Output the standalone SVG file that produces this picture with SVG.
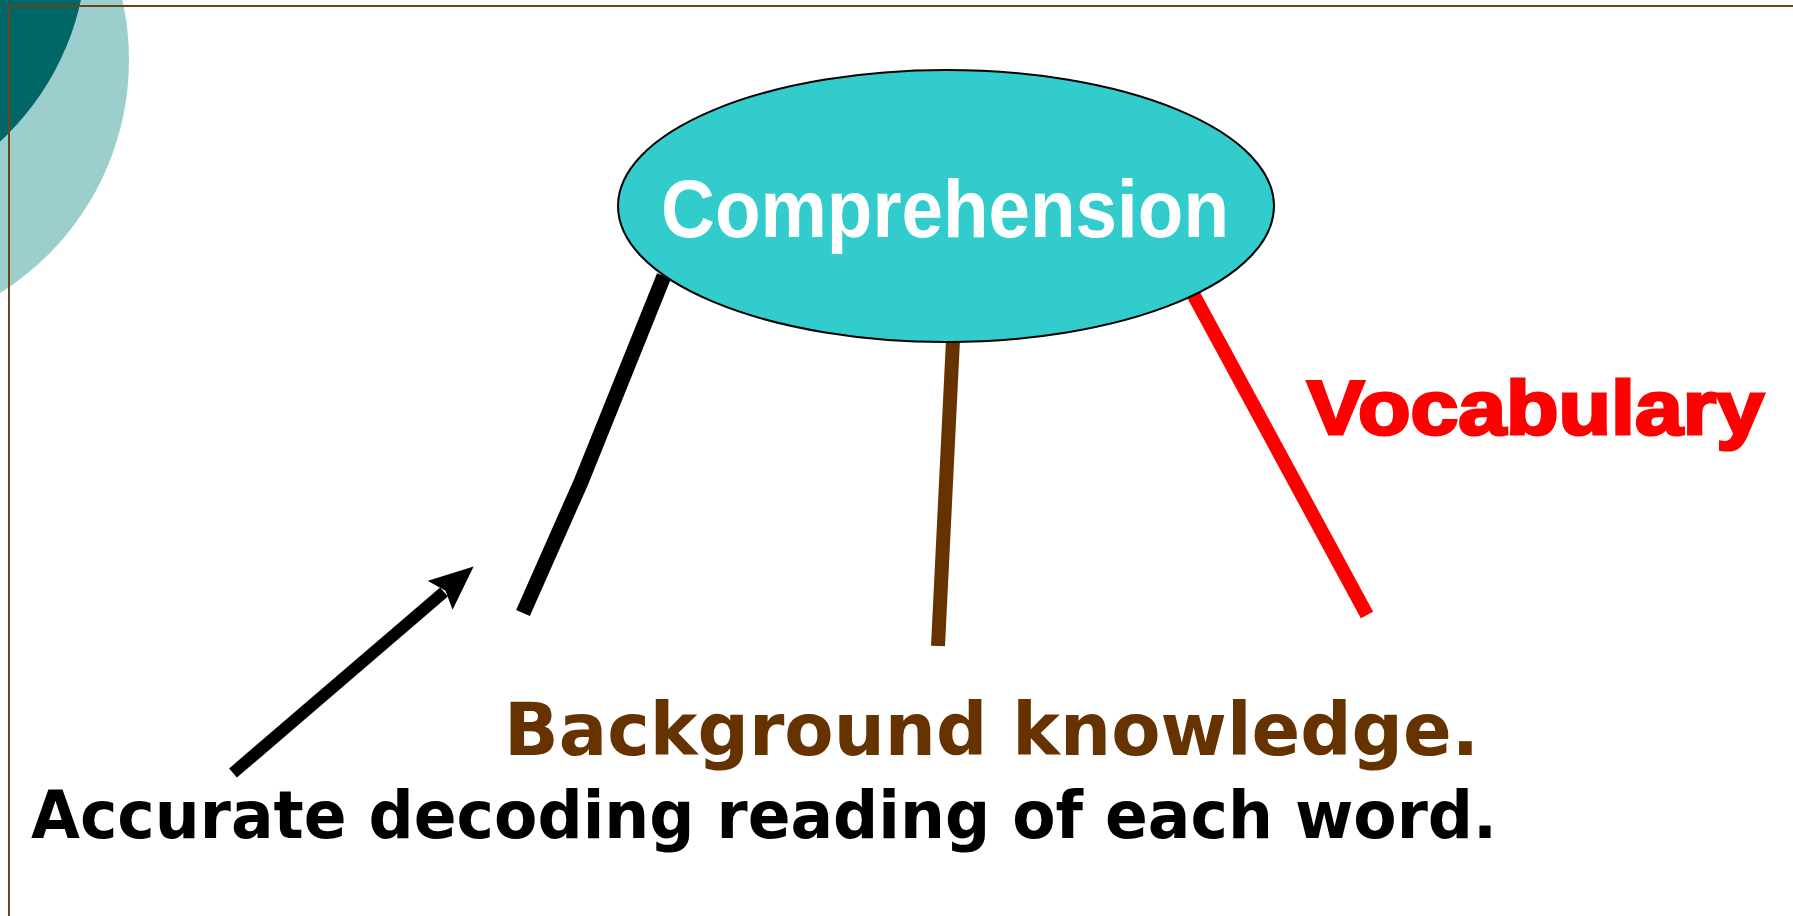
<svg xmlns="http://www.w3.org/2000/svg" width="1793" height="916" viewBox="0 0 1793 916">
<style>
.lbl{font-family:"DejaVu Sans","Liberation Sans",sans-serif;font-weight:bold}
.ar{font-family:"Liberation Sans",Arial,sans-serif;font-weight:bold}
</style>
<defs>
<marker id="ah" markerUnits="userSpaceOnUse" viewBox="0 0 44 38" refX="5" refY="19" markerWidth="44" markerHeight="38" orient="auto">
<path d="M0,0 L44,19 L0,38 L7,19 Z" fill="#000"/>
</marker>
</defs>
<rect width="1793" height="916" fill="#fff"/>
<g id="decor">
<circle cx="-146" cy="60" r="275" fill="#9CCECE"/>
<circle cx="-183" cy="-57" r="270" fill="#006666"/>
<path d="M9,916 V6 H1793" fill="none" stroke="#6B4419" stroke-width="2"/>
</g>
<g id="connectors" fill="none">
<polyline points="664,276 581,482 523,613" stroke="#000" stroke-width="15"/>
<line x1="953" y1="340" x2="938" y2="646" stroke="#663300" stroke-width="14"/>
<line x1="1192" y1="292" x2="1367" y2="615" stroke="#FF0000" stroke-width="14"/>
<line x1="233" y1="773" x2="444" y2="592" stroke="#000" stroke-width="12" marker-end="url(#ah)"/>
</g>
<g id="comprehension">
<ellipse cx="946" cy="206" rx="328" ry="136" fill="#33CCCC" stroke="#000" stroke-width="2"/>
<text class="ar" x="945" y="237" font-size="82" fill="#fff" text-anchor="middle" textLength="568" lengthAdjust="spacingAndGlyphs">Comprehension</text>
</g>
<g id="vocabulary">
<text class="ar" x="1307" y="434" font-size="76" fill="#FF0000" stroke="#FF0000" stroke-width="3" textLength="457" lengthAdjust="spacingAndGlyphs">Vocabulary</text>
</g>
<g id="background">
<text class="lbl" x="504" y="755" font-size="73" fill="#663300" textLength="975" lengthAdjust="spacingAndGlyphs">Background knowledge.</text>
</g>
<g id="decoding">
<text class="lbl" x="31" y="838" font-size="66" fill="#000" textLength="1466" lengthAdjust="spacingAndGlyphs">Accurate decoding reading of each word.</text>
</g>
</svg>
